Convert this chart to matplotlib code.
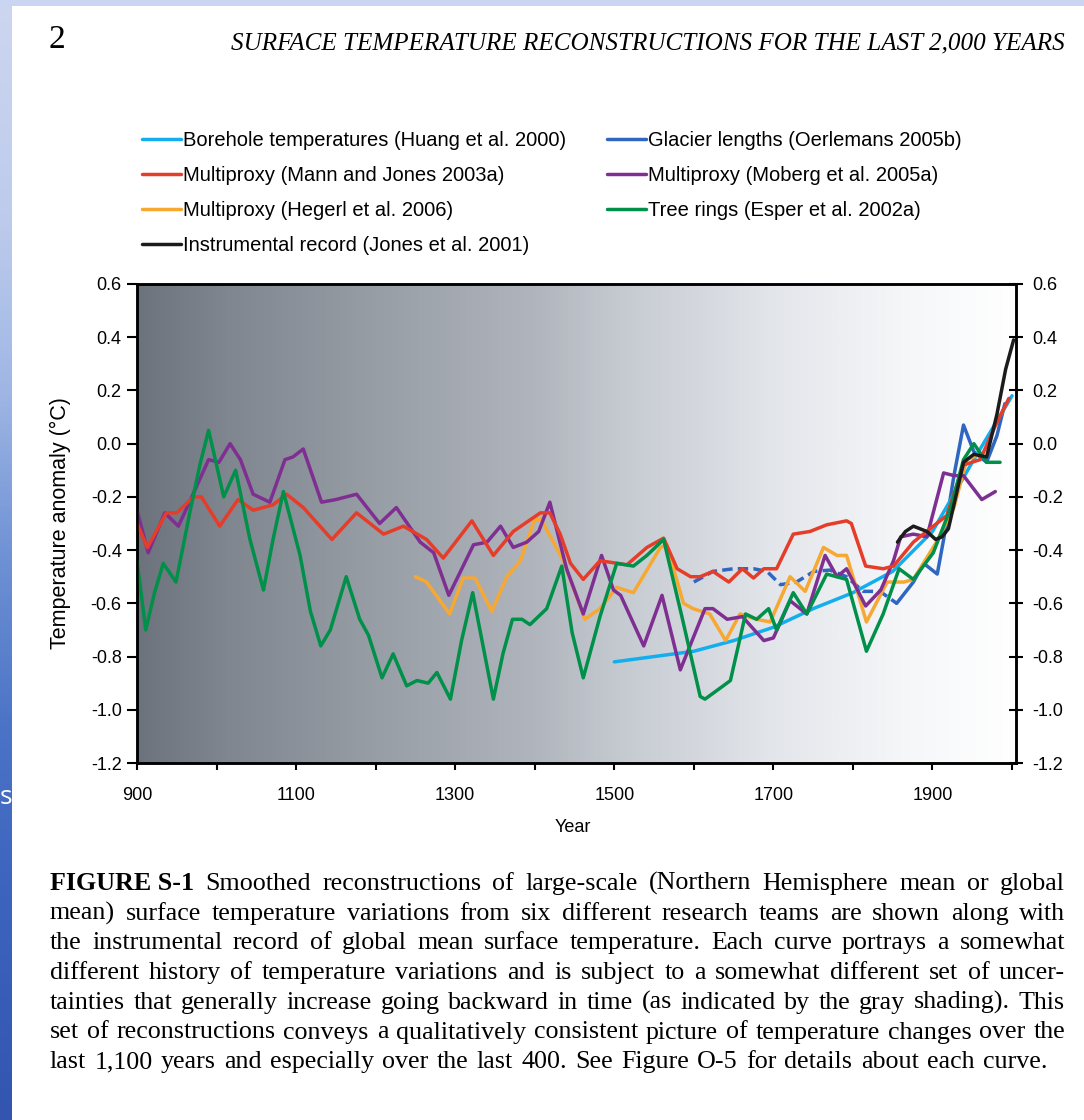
import numpy as np
import matplotlib.pyplot as plt
from matplotlib.colors import LinearSegmentedColormap
from matplotlib.patches import Rectangle

plt.rcParams['font.family'] = ['Liberation Sans', 'DejaVu Sans']

# ---- data (year, anomaly in deg C) ----
borehole_yr = [1500, 1550, 1600, 1650, 1700, 1750, 1800, 1850, 1900, 1950, 2000]
borehole_t = [-0.82, -0.80, -0.78, -0.74, -0.69, -0.62, -0.56, -0.48, -0.33, -0.07, 0.18]

glacier_yr = [1600, 1624, 1650, 1675, 1692, 1709, 1729, 1751, 1771, 1792, 1813, 1834, 1855,
              1876, 1889, 1906, 1914, 1927, 1939, 1952, 1968, 1981, 1991]
glacier_t = [-0.52, -0.48, -0.47, -0.47, -0.48, -0.53, -0.52, -0.48, -0.475, -0.50, -0.555, -0.555, -0.60,
             -0.52, -0.45, -0.49, -0.36, -0.12, 0.07, -0.03, -0.07, 0.03, 0.15]

mann_yr = [900, 913, 937, 950, 971, 981, 1004, 1027, 1046, 1071, 1088, 1109, 1145, 1176, 1210, 1235,
           1264, 1285, 1321, 1348, 1373, 1407, 1419, 1432, 1445, 1461, 1482, 1516, 1541, 1562, 1579,
           1596, 1608, 1624, 1644, 1661, 1675, 1688, 1704, 1725, 1746, 1767, 1792, 1798, 1816, 1838,
           1851, 1876, 1901, 1918, 1939, 1960, 1981, 1996]
mann_t = [-0.30, -0.39, -0.26, -0.26, -0.20, -0.20, -0.31, -0.21, -0.25, -0.23, -0.19, -0.24, -0.36,
          -0.26, -0.34, -0.31, -0.36, -0.43, -0.29, -0.42, -0.33, -0.26, -0.26, -0.34, -0.45, -0.51,
          -0.44, -0.455, -0.39, -0.355, -0.47, -0.50, -0.50, -0.48, -0.52, -0.47, -0.505, -0.47, -0.47,
          -0.34, -0.33, -0.305, -0.29, -0.30, -0.46, -0.47, -0.46, -0.37, -0.31, -0.27, -0.08, -0.06,
          0.08, 0.17]

moberg_yr = [900, 914, 935, 952, 969, 990, 1003, 1017, 1030, 1046, 1067, 1086, 1096, 1109, 1132, 1150,
             1176, 1205, 1226, 1256, 1273, 1292, 1323, 1340, 1357, 1373, 1390, 1405, 1419, 1440, 1461,
             1484, 1499, 1508, 1537, 1560, 1583, 1614, 1624, 1642, 1661, 1688, 1700, 1721, 1742, 1765,
             1780, 1792, 1816, 1835, 1851, 1860, 1876, 1893, 1914, 1927, 1939, 1962, 1979]
moberg_t = [-0.25, -0.41, -0.26, -0.31, -0.20, -0.06, -0.07, 0.00, -0.06, -0.19, -0.22, -0.06, -0.05,
            -0.02, -0.22, -0.21, -0.19, -0.30, -0.24, -0.37, -0.41, -0.57, -0.38, -0.37, -0.31, -0.39,
            -0.37, -0.33, -0.22, -0.47, -0.64, -0.42, -0.55, -0.57, -0.76, -0.57, -0.85, -0.62, -0.62,
            -0.66, -0.65, -0.74, -0.73, -0.59, -0.64, -0.42, -0.50, -0.47, -0.61, -0.55, -0.44, -0.35,
            -0.34, -0.35, -0.11, -0.12, -0.12, -0.21, -0.18]

hegerl_yr = [1250, 1264, 1293, 1310, 1325, 1346, 1365, 1382, 1399, 1407, 1436, 1463, 1482, 1503, 1524,
             1558, 1566, 1587, 1599, 1620, 1640, 1658, 1679, 1696, 1721, 1740, 1763, 1780, 1792, 1817,
             1843, 1864, 1876, 1905, 1927, 1943, 1960]
hegerl_t = [-0.50, -0.52, -0.64, -0.505, -0.505, -0.63, -0.50, -0.44, -0.29, -0.28, -0.44, -0.66, -0.62,
            -0.54, -0.56, -0.39, -0.38, -0.60, -0.62, -0.64, -0.74, -0.64, -0.66, -0.67, -0.50, -0.555,
            -0.39, -0.42, -0.42, -0.67, -0.52, -0.52, -0.51, -0.37, -0.24, -0.06, -0.04]

esper_yr = [900, 911, 922, 933, 949, 967, 979, 990, 1000, 1009, 1024, 1042, 1059, 1071, 1084, 1105,
            1118, 1131, 1143, 1163, 1180, 1191, 1208, 1222, 1239, 1252, 1266, 1277, 1294, 1308, 1322,
            1335, 1348, 1360, 1372, 1384, 1394, 1415, 1434, 1447, 1461, 1482, 1503, 1524, 1541, 1562,
            1585, 1608, 1614, 1637, 1646, 1665, 1679, 1694, 1704, 1725, 1742, 1767, 1792, 1817, 1838,
            1858, 1876, 1901, 1923, 1939, 1952, 1968, 1985]
esper_t = [-0.44, -0.70, -0.56, -0.45, -0.52, -0.25, -0.08, 0.05, -0.08, -0.20, -0.10, -0.36, -0.55,
           -0.36, -0.18, -0.42, -0.63, -0.76, -0.70, -0.50, -0.66, -0.72, -0.88, -0.79, -0.91, -0.89,
           -0.90, -0.86, -0.96, -0.74, -0.56, -0.76, -0.96, -0.79, -0.66, -0.66, -0.68, -0.62, -0.46,
           -0.71, -0.88, -0.65, -0.45, -0.46, -0.42, -0.36, -0.65, -0.95, -0.96, -0.91, -0.89, -0.64,
           -0.66, -0.62, -0.70, -0.56, -0.64, -0.49, -0.51, -0.78, -0.64, -0.47, -0.51, -0.41, -0.24,
           -0.06, 0.00, -0.07, -0.07]

instr_yr = [1856, 1866, 1876, 1893, 1904, 1912, 1920, 1930, 1939, 1952, 1968, 1981, 1992, 2002]
instr_t = [-0.37, -0.33, -0.31, -0.33, -0.36, -0.35, -0.32, -0.19, -0.07, -0.04, -0.05, 0.11, 0.28, 0.39]

labels = ['Borehole temperatures (Huang et al. 2000)', 'Glacier lengths (Oerlemans 2005b)',
          'Multiproxy (Mann and Jones 2003a)', 'Multiproxy (Moberg et al. 2005a)',
          'Multiproxy (Hegerl et al. 2006)', 'Tree rings (Esper et al. 2002a)',
          'Instrumental record (Jones et al. 2001)']

xticks = list(range(900, 2001, 100))
xticklabels = ['900', '', '1100', '', '1300', '', '1500', '', '1700', '', '1900', '']
yticks = [-1.2, -1.0, -0.8, -0.6, -0.4, -0.2, 0.0, 0.2, 0.4, 0.6]
yticklabels = ['-1.2', '-1.0', '-0.8', '-0.6', '-0.4', '-0.2', '0.0', '0.2', '0.4', '0.6']

header_num = '2'
header_title = 'SURFACE TEMPERATURE RECONSTRUCTIONS FOR THE LAST 2,000 YEARS'
caption_label = 'FIGURE S-1'
caption_lines = [
    'Smoothed reconstructions of large-scale (Northern Hemisphere mean or global',
    'mean) surface temperature variations from six different research teams are shown along with',
    'the instrumental record of global mean surface temperature. Each curve portrays a somewhat',
    'different history of temperature variations and is subject to a somewhat different set of uncer-',
    'tainties that generally increase going backward in time (as indicated by the gray shading). This',
    'set of reconstructions conveys a qualitatively consistent picture of temperature changes over the',
    'last 1,100 years and especially over the last 400. See Figure O-5 for details about each curve.',
]

W, H = 1084, 1120


def fx(px):
    return px / W


def fy(py):
    return 1 - py / H


fig = plt.figure(figsize=(W / 100, H / 100), dpi=100)
fig.patch.set_facecolor('white')

# page frame: blue slide edge on the left and top
bg = fig.add_axes([0, 0, 1, 1], zorder=-10)
edge_cmap = LinearSegmentedColormap.from_list(
    'edge', [(0.0, '#cdd6f0'), (0.2, '#bccbec'), (0.35, '#9fb6e4'), (0.5, '#6e91d4'),
             (0.65, '#4b73c6'), (0.8, '#3c64be'), (1.0, '#3355b0')])
bg.imshow(np.linspace(0, 1, 256)[:, None], extent=(0, 12, H, 0), cmap=edge_cmap, aspect='auto')
bg.add_patch(Rectangle((0, 0), W, 6, color='#c9d5f1', lw=0))
bg.set_xlim(0, W)
bg.set_ylim(H, 0)
bg.axis('off')
fig.text(fx(0), fy(797), 's', color='white', fontsize=19, va='center', family='Open Sans')

# main plot
ax = fig.add_axes([fx(137), fy(763), (1016 - 137) / W, (763 - 284) / H])
shade = LinearSegmentedColormap.from_list(
    'shade', [(0.0, '#6c737c'), (0.1, '#7f868f'), (0.25, '#959ba3'), (0.45, '#b0b5bd'),
              (0.55, '#c5cad1'), (0.72, '#e2e5ea'), (0.88, '#f6f7f9'), (1.0, '#ffffff')])
ax.imshow(np.linspace(0, 1, 512)[None, :], extent=(900, 2005, -1.2, 0.6), cmap=shade,
          aspect='auto', zorder=0)

style = dict(lw=2.5, solid_joinstyle='round', solid_capstyle='round')
split = glacier_yr.index(1855) + 1
ax.plot(glacier_yr[:split], glacier_t[:split], color='#2f66c2', lw=2.5, ls=(0, (3, 1.5)), zorder=2)
l_glac, = ax.plot(glacier_yr[split - 1:], glacier_t[split - 1:], color='#2f66c2', zorder=2, **style)
l_bore, = ax.plot(borehole_yr, borehole_t, color='#12aeee', zorder=3, **style)
l_heg, = ax.plot(hegerl_yr, hegerl_t, color='#f6a833', zorder=4, **style)
l_mob, = ax.plot(moberg_yr, moberg_t, color='#7f2f92', zorder=5, **style)
l_mann, = ax.plot(mann_yr, mann_t, color='#e53d2a', zorder=6, **style)
l_esp, = ax.plot(esper_yr, esper_t, color='#00904a', zorder=7, **style)
l_inst, = ax.plot(instr_yr, instr_t, color='#1c1c1c', zorder=8, **style)

ax.set_xlim(900, 2005)
ax.set_ylim(-1.2, 0.6)
ax.set_xticks(xticks)
ax.set_xticklabels(xticklabels)
ax.set_yticks(yticks)
ax.set_yticklabels(yticklabels)
ax.tick_params(axis='x', direction='out', length=5, width=1.5, labelsize=13, pad=12)
ax.tick_params(axis='y', direction='out', length=7, width=1.5, labelsize=13, pad=4)
for sp in ax.spines.values():
    sp.set_linewidth(1.8)

ax2 = ax.twinx()
ax2.set_ylim(-1.2, 0.6)
ax2.set_yticks(yticks)
ax2.set_yticklabels(yticklabels)
ax2.tick_params(axis='y', direction='inout', length=10, width=1.5, labelsize=13, pad=7)
for sp in ax2.spines.values():
    sp.set_linewidth(1.8)

ax.set_ylabel('Temperature anomaly (\u00b0C)', fontsize=15.5)
ax.yaxis.set_label_coords((71 - 137) / 879, 0.5)
ax.set_xlabel('Year', fontsize=13)
ax.xaxis.set_label_coords((573 - 137) / 879, -(819 - 763) / 479)

handles = [l_bore, l_mann, l_heg, l_inst, l_glac, l_mob, l_esp]
hlabels = [labels[0], labels[2], labels[4], labels[6], labels[1], labels[3], labels[5]]
fig.legend(handles, hlabels, loc='upper left', bbox_to_anchor=(fx(142), fy(131)),
           ncol=2, frameon=False, fontsize=14.5, handlelength=1.95, handletextpad=0.1,
           columnspacing=2.0, labelspacing=0.8, borderpad=0, borderaxespad=0)

# header and caption (serif page text)
renderer = fig.canvas.get_renderer()
serif = ['Liberation Serif', 'DejaVu Serif']

fig.text(fx(48), fy(40), header_num, fontsize=24, family=serif, va='center', ha='left')
t = fig.text(fx(1065), fy(43), header_title, fontsize=16, family=serif, style='italic',
             va='center', ha='right')
t.set_fontsize(16 * 837 / t.get_window_extent(renderer).width)


def text_width(s, size, weight='normal'):
    tt = fig.text(0, 0, s, fontsize=size, family=serif, weight=weight)
    w = tt.get_window_extent(renderer).width
    tt.remove()
    return w


cap_size = 16
widest = max(text_width(s, cap_size) for s in caption_lines[1:])
cap_size = cap_size * 1000 / widest

right_edges = [1065] * 6 + [1047]
for i, line in enumerate(caption_lines):
    words = line.split(' ')
    weights = ['normal'] * len(words)
    if i == 0:
        words = [caption_label] + words
        weights = ['bold'] + weights
    widths = [text_width(w, cap_size, wt) for w, wt in zip(words, weights)]
    gap = (right_edges[i] - 50 - sum(widths)) / (len(words) - 1)
    x = 50
    base = 890 + 29.7 * i
    for w, wt, wd in zip(words, weights, widths):
        fig.text(fx(x), fy(base), w, fontsize=cap_size, family=serif, weight=wt,
                 va='baseline', ha='left')
        x += wd + gap

fig.savefig('out.png', dpi=100)
